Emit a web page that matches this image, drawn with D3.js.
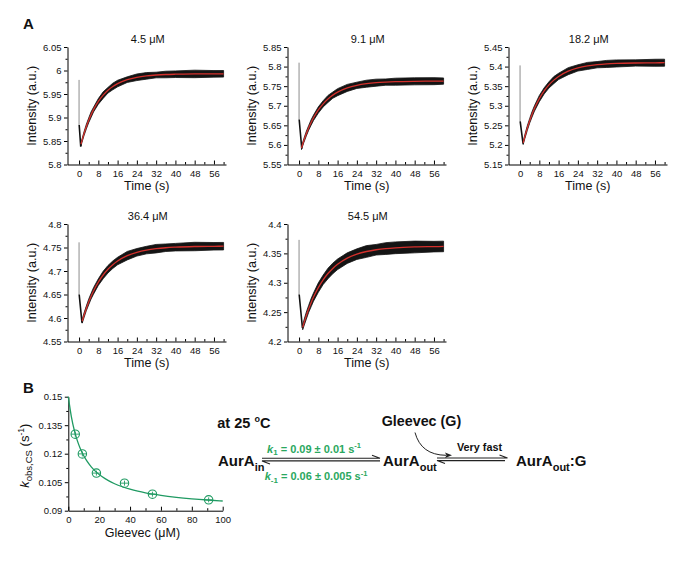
<!DOCTYPE html>
<html><head><meta charset="utf-8">
<script src="https://cdn.jsdelivr.net/npm/d3@7"></script>
<style>
body{margin:0;background:#fff}
svg{display:block}
text{font-family:"Liberation Sans",Arial,Helvetica,sans-serif;fill:#111}
</style>
</head><body>
<svg id="c" width="698" height="562"></svg>
<script>
// ---------- DATA ----------
const panelTitles = ["4.5 \u03bcM", "9.1 \u03bcM", "18.2 \u03bcM", "36.4 \u03bcM", "54.5 \u03bcM"];
const timeTicks = [0, 8, 16, 24, 32, 40, 48, 56];
const timeMinorTicks = [4, 12, 20, 28, 36, 44, 52, 60];
const yTicks = [
  [5.8, 5.85, 5.9, 5.95, 6, 6.05],
  [5.55, 5.6, 5.65, 5.7, 5.75, 5.8, 5.85],
  [5.15, 5.2, 5.25, 5.3, 5.35, 5.4, 5.45],
  [4.55, 4.6, 4.65, 4.7, 4.75, 4.8],
  [4.2, 4.25, 4.3, 4.35, 4.4]
];
// fitted curves (red) sampled at these times (s)
const fitTimes = [2, 3, 4, 5, 6, 8, 10, 12, 14, 16, 20, 24, 28, 32, 36, 40, 48, 56, 60];
const fit1 = [5.8647,5.8803,5.894,5.9061,5.9167,5.9342,5.9476,5.958,5.966,5.9722,5.9806,5.9856,5.9886,5.9904,5.9915,5.9921,5.9927,5.9929,5.993];
const fit2 = [5.6113,5.6285,5.6437,5.6572,5.6692,5.6892,5.7049,5.7173,5.7271,5.7347,5.7455,5.7522,5.7563,5.7589,5.7604,5.7614,5.7624,5.7628,5.763];
const fit3 = [5.2215,5.2428,5.2617,5.2785,5.2934,5.3183,5.3378,5.3532,5.3654,5.3749,5.3883,5.3966,5.4017,5.4048,5.4068,5.408,5.4092,5.4097,5.4099];
const fit4 = [4.6049,4.6203,4.6341,4.6465,4.6576,4.6764,4.6915,4.7037,4.7134,4.7212,4.7326,4.7398,4.7445,4.7475,4.7495,4.7507,4.7521,4.7526,4.7528];
const fit5 = [4.231,4.2439,4.2556,4.2661,4.2756,4.2918,4.305,4.3157,4.3244,4.3314,4.3419,4.3487,4.3532,4.3562,4.3582,4.3595,4.3609,4.3615,4.3618];
// half-width of the noisy black trace around the fit, at fitTimes
const band1 = [0.004,0.005,0.005,0.006,0.005,0.006,0.007,0.006,0.007,0.007,0.006,0.007,0.007,0.006,0.007,0.007,0.008,0.007,0.007];
const band2 = [0.005,0.006,0.006,0.007,0.007,0.008,0.008,0.009,0.008,0.009,0.009,0.008,0.009,0.009,0.008,0.009,0.009,0.009,0.008];
const band3 = [0.005,0.006,0.006,0.007,0.007,0.008,0.008,0.008,0.009,0.008,0.009,0.008,0.009,0.008,0.009,0.009,0.008,0.009,0.009];
const band4 = [0.005,0.005,0.006,0.006,0.007,0.007,0.008,0.008,0.008,0.008,0.009,0.008,0.008,0.009,0.008,0.008,0.009,0.008,0.008];
const band5 = [0.005,0.006,0.006,0.007,0.007,0.008,0.008,0.009,0.009,0.009,0.009,0.009,0.010,0.009,0.010,0.010,0.010,0.009,0.009];
// initial mixing transient
const spikeTop = [5.980, 5.810, 5.403, 4.761, 4.373];
const spikeMid = [5.884, 5.665, 5.260, 4.650, 4.280];
const minTime = [0.7, 1.1, 1.2, 1.2, 1.4];
const minValue = [5.838, 5.592, 5.205, 4.590, 4.223];
const fitStartTime = [0.8, 1.0, 1.3, 1.3, 1.5];
const fitStartValue = [5.843, 5.592, 5.205, 4.593, 4.224];

// Panel B
const gleevec = [4.5, 9.1, 18.2, 36.4, 54.5, 90.9];
const kobs = [0.1303, 0.1199, 0.1098, 0.1045, 0.0987, 0.0957];
const curveG = [0,2,4,6,8,10,12,15,18,22,26,30,35,40,45,50,55,60,70,80,90,100];
const curveK = [0.15,0.13938,0.13195,0.12647,0.12225,0.11891,0.1162,0.11296,0.11044,0.10783,0.10581,0.1042,0.1026,0.10132,0.10028,0.09941,0.09868,0.09805,0.09704,0.09625,0.09562,0.09511];
const kTicks = [0.09, 0.105, 0.12, 0.135, 0.15];
const kMinorTicks = [0.0975, 0.1125, 0.1275, 0.1425];
const gTicks = [0, 20, 40, 60, 80, 100];
const gMinorTicks = [10, 30, 50, 70, 90];

// ---------- DRAW ----------
const svg = d3.select("#c");
const fits = [fit1, fit2, fit3, fit4, fit5];
const bands = [band1, band2, band3, band4, band5];
const colLeft = [67.5, 287.5, 508.5];
const rowTop = [47, 224];
const W = 158.5, H = 117.5;
const RED = "#d3302c";
const GREEN = "#1f9a62";
const GREEN_TXT = "#2aa860";
const TICK_FS = 9.5;

function fmt(v) { return String(+v.toFixed(3)); }

svg.append("text").attr("x", 23).attr("y", 28.5).attr("font-size", 15).attr("font-weight", "bold").text("A");
svg.append("text").attr("x", 23).attr("y", 393).attr("font-size", 15).attr("font-weight", "bold").text("B");

function drawAxes(g, x, y, h, yt, yMinor, xt, xMinor) {
  g.append("g").call(d3.axisLeft(y).tickValues(yMinor).tickSize(2).tickFormat(""))
    .call(a => a.select(".domain").remove());
  g.append("g").call(d3.axisLeft(y).tickValues(yt).tickSize(3.5).tickSizeOuter(0).tickPadding(2.5).tickFormat(fmt))
    .call(a => a.selectAll("text").attr("font-size", TICK_FS).attr("fill", "#222"));
  g.append("g").attr("transform", `translate(0,${h})`)
    .call(d3.axisBottom(x).tickValues(xMinor).tickSize(-2.5).tickFormat(""))
    .call(a => a.select(".domain").remove());
  g.append("g").attr("transform", `translate(0,${h})`)
    .call(d3.axisBottom(x).tickValues(xt).tickSize(-4).tickSizeOuter(0).tickPadding(6))
    .call(a => a.selectAll("text").attr("font-size", TICK_FS).attr("fill", "#222"));
}

for (let i = 0; i < 5; i++) {
  const left = colLeft[i % 3], top = rowTop[Math.floor(i / 3)];
  const g = svg.append("g").attr("transform", `translate(${left},${top})`);
  const yt = yTicks[i];
  const x = d3.scaleLinear().domain([-4.8, 61]).range([0, W]);
  const y = d3.scaleLinear().domain([yt[0], yt[yt.length - 1]]).range([H, 0]);

  const ts = [fitStartTime[i]].concat(fitTimes);
  const vs = [fitStartValue[i]].concat(fits[i]);
  const hw = [bands[i][0] * 0.8].concat(bands[i]);
  const pts = ts.map((t, k) => ({ t, v: vs[k], h: hw[k] }));

  // gray spike
  g.append("line").attr("x1", x(0)).attr("x2", x(0))
    .attr("y1", y(spikeTop[i])).attr("y2", y(spikeMid[i]))
    .attr("stroke", "#8c8c8c").attr("stroke-width", 1);
  // black transient down to minimum
  g.append("path")
    .attr("d", d3.line().x(d => x(d[0])).y(d => y(d[1]))([[0.05, spikeMid[i]], [minTime[i], minValue[i]], [fitStartTime[i], fitStartValue[i]]]))
    .attr("fill", "none").attr("stroke", "#111").attr("stroke-width", 1.6);
  // noisy trace band
  g.append("path")
    .attr("d", d3.area().x(d => x(d.t)).y0(d => y(d.v - d.h)).y1(d => y(d.v + d.h))(pts))
    .attr("fill", "#141414").attr("stroke", "#141414").attr("stroke-width", 0.8);
  // red fit
  g.append("path")
    .attr("d", d3.line().curve(d3.curveMonotoneX).x(d => x(d.t)).y(d => y(d.v))(pts))
    .attr("fill", "none").attr("stroke", RED).attr("stroke-width", 1.3);

  const minorY = yt.slice(0, -1).map((v, k) => (v + yt[k + 1]) / 2);
  drawAxes(g, x, y, H, yt, minorY, timeTicks, timeMinorTicks);

  g.append("text").attr("x", W / 2 + 1).attr("y", -4.5).attr("text-anchor", "middle")
    .attr("font-size", 11).text(panelTitles[i]);
  g.append("text").attr("x", W / 2).attr("y", H + 25.5).attr("text-anchor", "middle")
    .attr("font-size", 12.5).text("Time (s)");
  g.append("text").attr("transform", `translate(-31.5,${H / 2}) rotate(-90)`)
    .attr("text-anchor", "middle").attr("font-size", 12.6).text("Intensity (a.u.)");
}

// ---------- Panel B ----------
{
  const left = 68.3, top = 396.7, w = 154.4, h = 114;
  const g = svg.append("g").attr("transform", `translate(${left},${top})`);
  const x = d3.scaleLinear().domain([0, 100]).range([0, w]);
  const y = d3.scaleLinear().domain([0.09, 0.15]).range([h, 0]);

  drawAxes(g, x, y, h, kTicks, kMinorTicks, gTicks, gMinorTicks);

  const cpts = curveG.map((v, k) => [v, curveK[k]]);
  g.append("path").attr("d", d3.line().curve(d3.curveMonotoneX).x(d => x(d[0])).y(d => y(d[1]))(cpts))
    .attr("fill", "none").attr("stroke", GREEN).attr("stroke-width", 1.3);

  const m = g.selectAll(".pt").data(gleevec.map((v, k) => [v, kobs[k]])).enter().append("g")
    .attr("transform", d => `translate(${x(d[0])},${y(d[1])})`);
  m.append("circle").attr("r", 4.2).attr("fill", "none").attr("stroke", GREEN).attr("stroke-width", 1.1);
  m.append("line").attr("x1", -4.2).attr("x2", 4.2).attr("stroke", GREEN).attr("stroke-width", 0.9);
  m.append("line").attr("y1", -2.5).attr("y2", 2.5).attr("stroke", GREEN).attr("stroke-width", 0.9);

  g.append("text").attr("x", w / 2 - 3).attr("y", h + 26).attr("text-anchor", "middle")
    .attr("font-size", 12.5).text("Gleevec (\u03bcM)");
  const yl = g.append("text").attr("transform", `translate(-39.5,${h / 2 + 2}) rotate(-90)`)
    .attr("text-anchor", "middle").attr("font-size", 13);
  yl.append("tspan").attr("font-style", "italic").text("k");
  yl.append("tspan").attr("font-size", 9.5).attr("dy", 3.5).text("obs,CS");
  yl.append("tspan").attr("dy", -3.5).text(" (s");
  yl.append("tspan").attr("font-size", 8.5).attr("dy", -5).text("-1");
  yl.append("tspan").attr("dy", 5).text(")");
}

// ---------- Scheme ----------
{
  const s = svg.append("g");
  const t1 = s.append("text").attr("x", 217.3).attr("y", 428).attr("font-size", 14.5).attr("font-weight", "bold");
  t1.append("tspan").text("at 25 ");
  t1.append("tspan").attr("font-size", 9).attr("dy", -6).text("o");
  t1.append("tspan").attr("dy", 6).text("C");

  s.append("text").attr("x", 381.7).attr("y", 426).attr("font-size", 14.3).attr("font-weight", "bold").text("Gleevec (G)");

  function species(xp, sub, tail) {
    const t = s.append("text").attr("x", xp).attr("y", 466).attr("font-size", 15).attr("font-weight", "bold");
    t.append("tspan").text("AurA");
    t.append("tspan").attr("font-size", 11).attr("dy", 4.5).text(sub);
    if (tail) t.append("tspan").attr("dy", -4.5).text(tail);
  }
  species(218, "in");
  species(383, "out");
  species(516, "out", ":G");

  function harpoons(x1, x2, yTop, x2b) {
    s.append("path").attr("d", `M${x1},${yTop}H${x2}l-8,-3`).attr("fill", "none").attr("stroke", "#222").attr("stroke-width", 1.1);
    s.append("path").attr("d", `M${x2b},${yTop + 2.6}H${x1}l8,3`).attr("fill", "none").attr("stroke", "#222").attr("stroke-width", 1.1);
  }
  harpoons(262, 380, 458.3, 380);
  harpoons(437, 507.5, 458, 505);

  const k1 = s.append("text").attr("x", 314).attr("y", 452.7).attr("text-anchor", "middle")
    .attr("font-size", 11).attr("font-weight", "bold").style("fill", GREEN_TXT);
  k1.append("tspan").attr("font-style", "italic").text("k");
  k1.append("tspan").attr("font-size", 8).attr("dy", 2.5).text("1");
  k1.append("tspan").attr("dy", -2.5).text(" = 0.09 \u00b1 0.01 s");
  k1.append("tspan").attr("font-size", 7.5).attr("dy", -4.5).text("-1");

  const k2 = s.append("text").attr("x", 316).attr("y", 480).attr("text-anchor", "middle")
    .attr("font-size", 11).attr("font-weight", "bold").style("fill", GREEN_TXT);
  k2.append("tspan").attr("font-style", "italic").text("k");
  k2.append("tspan").attr("font-size", 8).attr("dy", 2.5).text("-1");
  k2.append("tspan").attr("dy", -2.5).text(" = 0.06 \u00b1 0.005 s");
  k2.append("tspan").attr("font-size", 7.5).attr("dy", -4.5).text("-1");

  s.append("text").attr("x", 479.5).attr("y", 451).attr("text-anchor", "middle")
    .attr("font-size", 10.8).attr("font-weight", "bold").text("Very fast");

  s.append("path").attr("d", "M415,432.5 Q421,455 446,455.3").attr("fill", "none").attr("stroke", "#222").attr("stroke-width", 1);
  s.append("path").attr("d", "M452,455.3 L445,452.6 L446.5,455.3 L445,458 Z").attr("fill", "#222");
}
</script>
</body></html>
